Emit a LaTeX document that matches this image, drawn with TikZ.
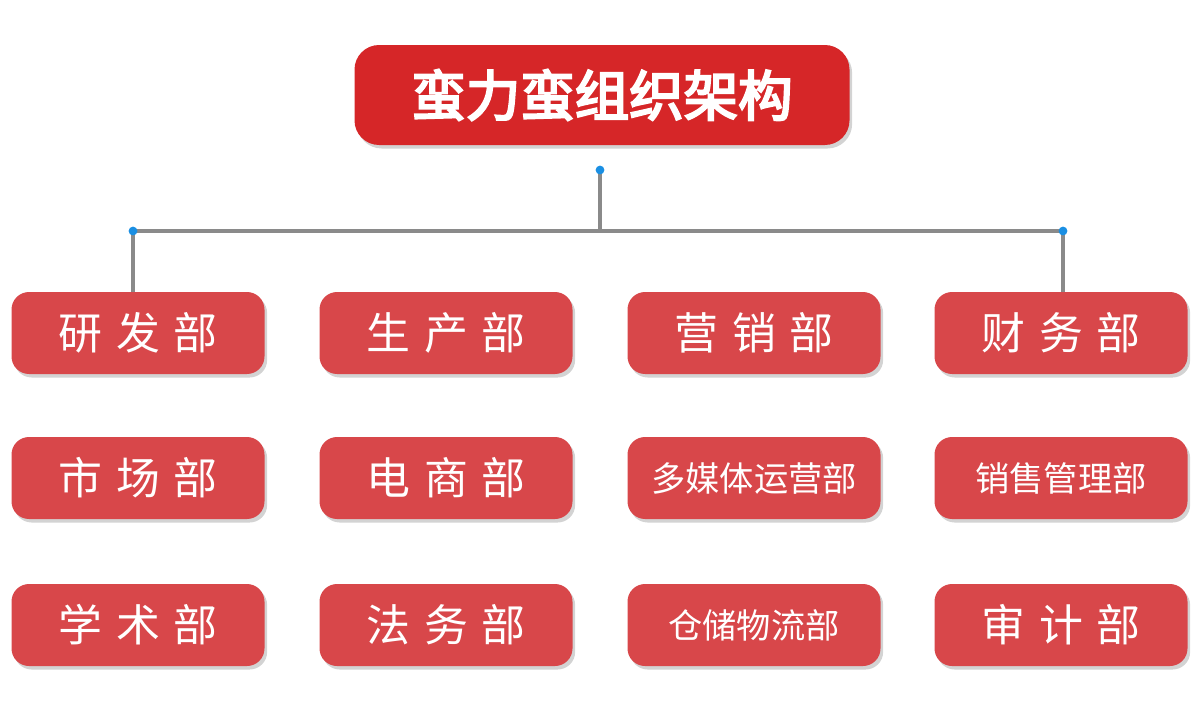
\documentclass[tikz,border=0pt]{standalone}
\usepackage{fontspec}
\newfontfamily\cjk{Noto Sans CJK SC}
\newfontfamily\cjkb[FakeBold=4]{Noto Sans CJK SC}
\usetikzlibrary{shadows}
\definecolor{titred}{HTML}{D62628}
\definecolor{boxred}{HTML}{D8474A}
\definecolor{linegray}{HTML}{8A8A8A}
\definecolor{dotblue}{HTML}{1A8FE3}
\tikzset{
 px/.style={x=0.02cm,y=-0.02cm},
 dept/.style={fill=boxred,rounded corners=10pt,minimum width=253*0.02cm,minimum height=82*0.02cm,inner sep=0pt,text=white,font=\cjk\fontsize{25}{25}\selectfont,drop shadow={shadow xshift=1.5pt,shadow yshift=-2pt,opacity=0.35}},
 deptsm/.style={dept,font=\cjk\fontsize{19.5}{20}\selectfont},
 conn/.style={draw=linegray,line width=2pt},
 dot/.style={circle,fill=dotblue,inner sep=0pt,minimum size=5pt}
}
\begin{document}
\begin{tikzpicture}[px]
\useasboundingbox (0,0) rectangle (1200,717);
\node[fill=titred,rounded corners=14pt,minimum width=495*0.02cm,minimum height=100*0.02cm,text=white,font=\cjkb\fontsize{31}{31}\selectfont,drop shadow={shadow xshift=1.5pt,shadow yshift=-2pt,opacity=0.35}] (title) at (602,95) {蛮力蛮组织架构};
\coordinate (top) at (600,170);
\coordinate (mid) at (600,230);
\coordinate (l) at (133,231);
\coordinate (r) at (1063,231);
\foreach \t/\x/\y/\s [count=\i] in {研\hspace{0.3em}发\hspace{0.3em}部/138/333/dept,生\hspace{0.3em}产\hspace{0.3em}部/446/333/dept,营\hspace{0.3em}销\hspace{0.3em}部/754/333/dept,财\hspace{0.3em}务\hspace{0.3em}部/1061/333/dept,
市\hspace{0.3em}场\hspace{0.3em}部/138/478/dept,电\hspace{0.3em}商\hspace{0.3em}部/446/478/dept,多媒体运营部/754/478/deptsm,销售管理部/1061/478/deptsm,
学\hspace{0.3em}术\hspace{0.3em}部/138/625/dept,法\hspace{0.3em}务\hspace{0.3em}部/446/625/dept,仓储物流部/754/625/deptsm,审\hspace{0.3em}计\hspace{0.3em}部/1061/625/dept}
 \node[\s] (d\i) at (\x,\y) {\t};
\draw[conn] (top) -- (mid);
\draw[conn] (l) -- (r);
\draw[conn] (l) -- (l |- d1.north);
\draw[conn] (r) -- (r |- d4.north);
\node[dot] at (top) {};
\node[dot] at (l) {};
\node[dot] at (r) {};
\end{tikzpicture}
\end{document}
